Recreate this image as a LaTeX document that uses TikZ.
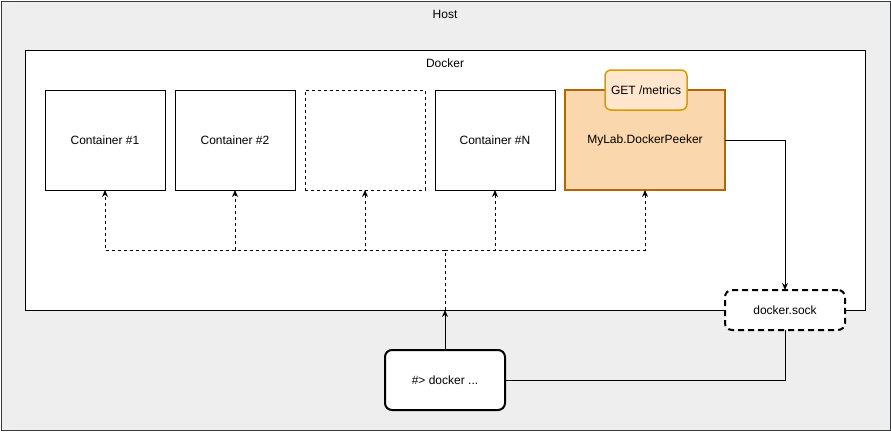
\documentclass[tikz,border=0pt]{standalone}
\usepackage{fontspec}
\setmainfont{Liberation Sans}
\usetikzlibrary{shapes,arrows.meta}
\definecolor{hostfill}{HTML}{EEEEEE}
\definecolor{hostline}{HTML}{36393D}
\definecolor{peekfill}{HTML}{FAD7AC}
\definecolor{peekline}{HTML}{B46504}
\definecolor{getfill}{HTML}{FFE6CC}
\definecolor{getline}{HTML}{D79B00}
\tikzset{
  every node/.style={font=\fontsize{12}{14}\selectfont, outer sep=0pt},
  box/.style={shape=rectangle, minimum width=120pt, minimum height=100pt, draw, fill=white, line width=1pt},
  tip/.style={-{Stealth[length=7pt,width=6pt]}},
  dashline/.style={dash pattern=on 3pt off 3pt, line width=1pt},
}
\begin{document}
\begin{tikzpicture}[x=1pt,y=-1pt]
\useasboundingbox (0,0) rectangle (891,431);

\node[name=host, shape=rectangle, minimum width=889pt, minimum height=429pt, anchor=north west, draw=hostline, fill=hostfill, line width=1pt] at (1,1) {};
\node[name=hostlabel] at (445,14) {Host};
\node[name=docker, shape=rectangle, minimum width=840pt, minimum height=260pt, anchor=north west, draw, fill=white, line width=1pt] at (25,50) {};
\node[name=dockerlabel] at (445,63) {Docker};

\node[name=c1, box] at (105,140) {Container \#1};
\node[name=c2, box] at (235,140) {Container \#2};
\node[name=c3, box, dashline] at (365,140) {};
\node[name=cN, box] at (495,140) {Container \#N};
\node[name=peeker, box, minimum width=160pt, line width=2pt, draw=peekline, fill=peekfill] at (645,140) {MyLab.DockerPeeker};
\node[name=get, shape=rectangle, rounded corners=6pt, minimum width=82pt, minimum height=40pt, draw=getline, fill=getfill, line width=1.5pt] at (646,90) {GET /metrics};

\node[name=sock, shape=rectangle, rounded corners=7pt, minimum width=120pt, minimum height=40pt, draw, fill=white, line width=2pt, dash pattern=on 6pt off 4pt] at (785,310) {docker.sock};
\node[name=cli, shape=rectangle, rounded corners=7pt, minimum width=120pt, minimum height=60pt, draw, fill=white, line width=2pt] at (445,380) {\#> docker ...};

\coordinate (fork) at (445,250);
\draw[tip, line width=1pt] (cli.north) -- (docker.south);
\draw[dashline] (docker.south) -- (fork);
\foreach \n in {c1,c2,c3,cN,peeker}
  \draw[dashline, tip] (fork) -| (\n.south);
\draw[tip, line width=1pt] (peeker.east) -| (sock.north);
\draw[line width=1pt] (sock.south) |- (cli.east);

\end{tikzpicture}
\end{document}
